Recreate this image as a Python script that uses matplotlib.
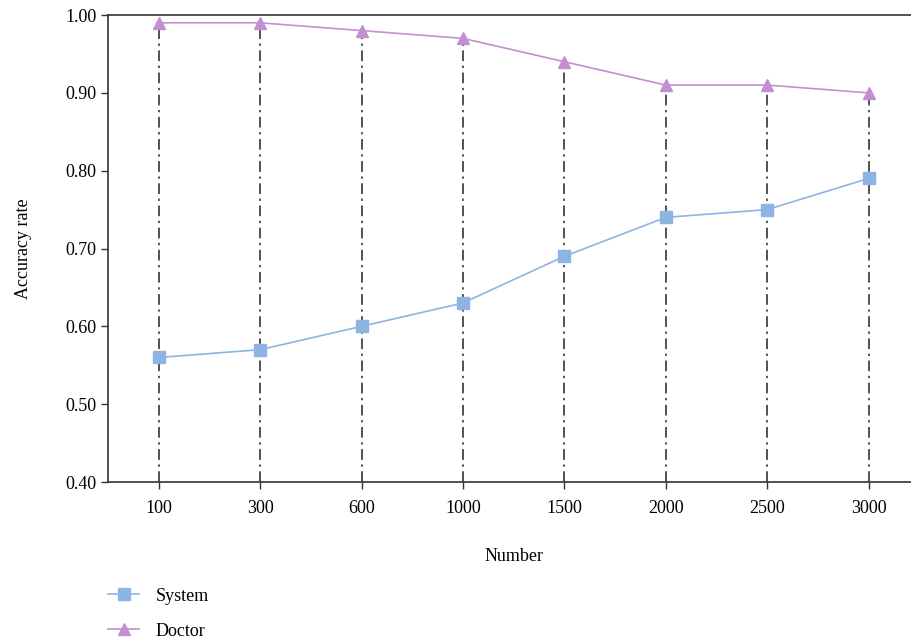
import matplotlib
matplotlib.use('Agg')
import matplotlib.pyplot as plt
import numpy as np

plt.rcParams['font.family'] = ['Liberation Serif', 'DejaVu Serif']

numbers = ['100', '300', '600', '1000', '1500', '2000', '2500', '3000']
system = [0.56, 0.57, 0.60, 0.63, 0.69, 0.74, 0.75, 0.79]
doctor = [0.99, 0.99, 0.98, 0.97, 0.94, 0.91, 0.91, 0.90]

c_sys = '#8db4e2'
c_doc = '#c38fd1'

fig = plt.figure(figsize=(9.12, 6.42), dpi=100)
ax = fig.add_axes([0.1184, 0.2492, 0.8896, 0.7274])

x = np.arange(len(numbers))
ax.vlines(x, 0.40, doctor, colors='#222222', linestyles=(0, (7, 3, 1.5, 3)), linewidth=1.1, zorder=1)
l1, = ax.plot(x, system, color=c_sys, marker='s', markersize=8.5, linewidth=1.2, label='System', zorder=3)
l2, = ax.plot(x, doctor, color=c_doc, marker='^', markersize=8.5, linewidth=1.2, label='Doctor', zorder=3)

ax.set_xlim(-0.5, 7.5)
ax.set_ylim(0.40, 1.00)
ax.set_xticks(x)
ax.set_xticklabels(numbers)
ax.set_yticks(np.arange(0.40, 1.001, 0.10))
ax.set_yticklabels(['%.2f' % v for v in np.arange(0.40, 1.001, 0.10)])
ax.tick_params(direction='out', length=5, width=1, labelsize=13, color='#333333')
ax.tick_params(axis='x', pad=8)
ax.spines['right'].set_visible(False)
for s in ['left', 'bottom', 'top']:
    ax.spines[s].set_linewidth(1.2)
    ax.spines[s].set_color('#333333')

ax.set_xlabel('Number', fontsize=13, labelpad=22)
ax.set_ylabel('Accuracy rate', fontsize=13, labelpad=24)

fig.legend(handles=[l1, l2], loc='upper left', bbox_to_anchor=(0.101, 0.11),
           frameon=False, fontsize=13, handlelength=1.7, handletextpad=0.9, labelspacing=1.0)

fig.savefig('out.png', dpi=100)
